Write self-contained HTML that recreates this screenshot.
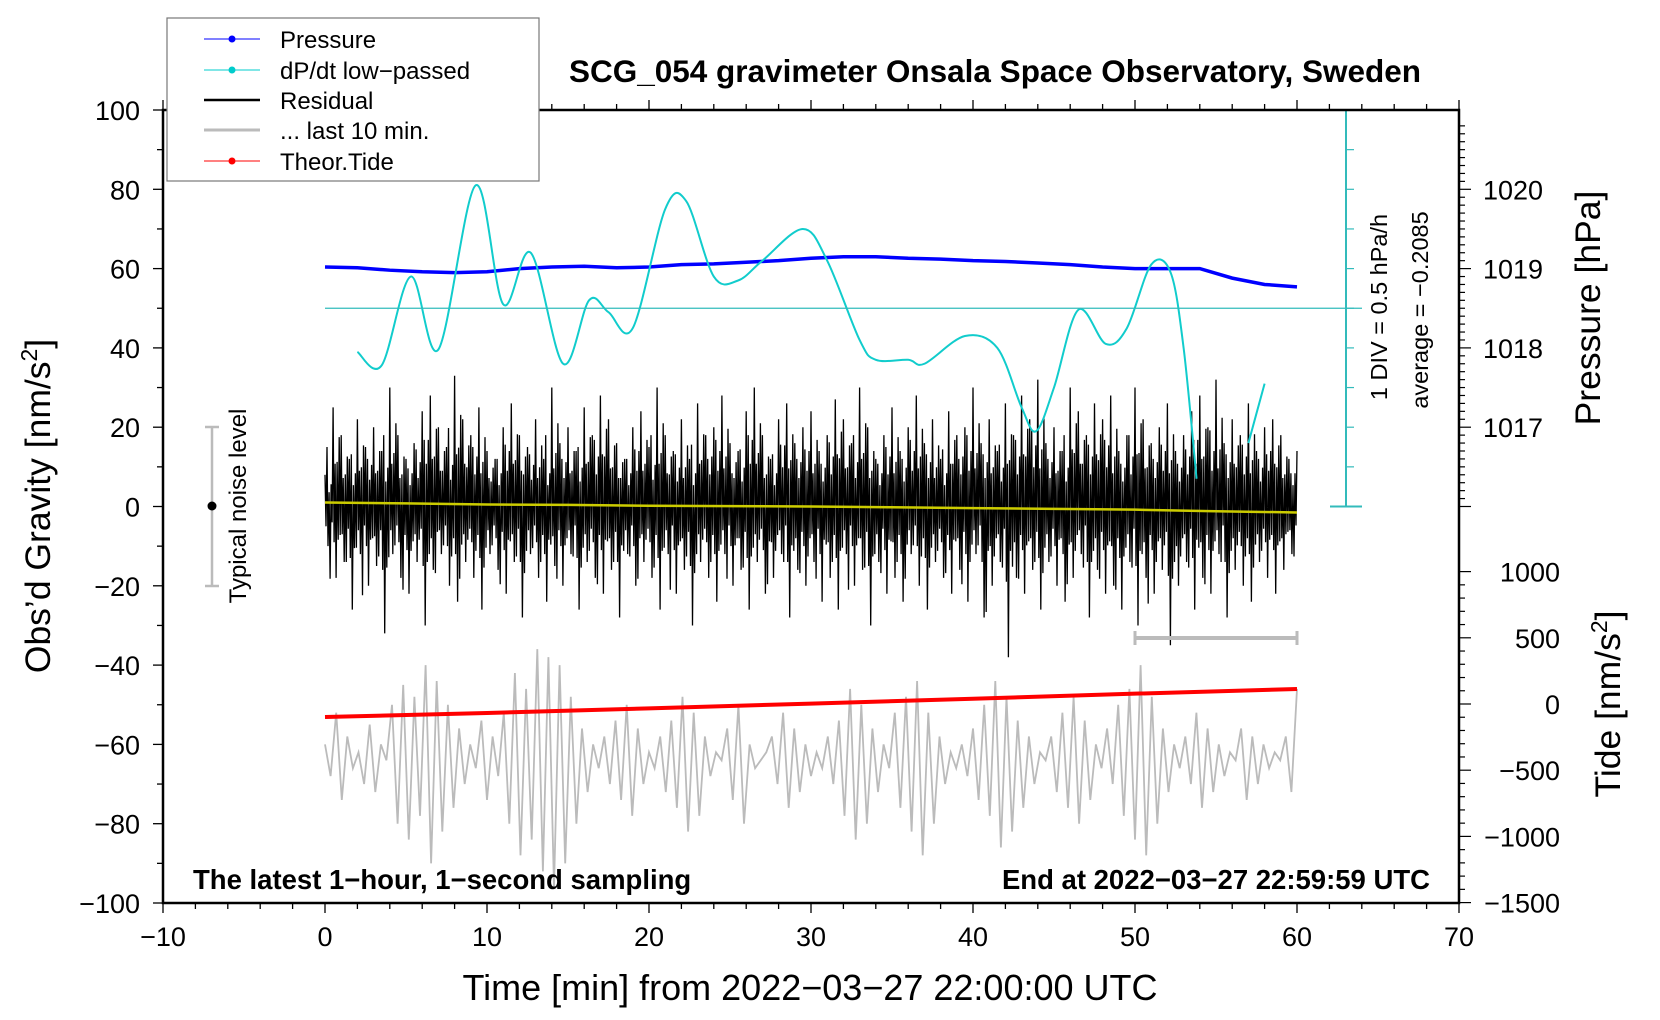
<!DOCTYPE html>
<html><head><meta charset="utf-8"><style>
html,body{margin:0;padding:0;background:#fff;}
svg{display:block;font-family:"Liberation Sans",sans-serif;}
</style></head><body>
<svg id="chart" width="1660" height="1020" viewBox="0 0 1660 1020" xmlns="http://www.w3.org/2000/svg">
<g id="marks"></g>
<g id="axes"></g>
<text x="995" y="82" text-anchor="middle" font-size="31.5" font-weight="bold">SCG_054 gravimeter Onsala Space Observatory, Sweden</text>
<text x="193" y="889" font-size="27.5" font-weight="bold">The latest 1−hour, 1−second sampling</text>
<text x="1430" y="889" text-anchor="end" font-size="27.5" font-weight="bold">End at 2022−03−27 22:59:59 UTC</text>
<text x="810" y="1000" text-anchor="middle" font-size="36">Time [min] from 2022−03−27 22:00:00 UTC</text>
<text transform="translate(50,506) rotate(-90)" text-anchor="middle" font-size="35.5">Obs’d Gravity [nm/s<tspan font-size="23" dy="-13">2</tspan><tspan dy="13">]</tspan></text>
<text transform="translate(1600,308) rotate(-90)" text-anchor="middle" font-size="35.5">Pressure [hPa]</text>
<text transform="translate(1620,704) rotate(-90)" text-anchor="middle" font-size="35.5">Tide [nm/s<tspan font-size="23" dy="-13">2</tspan><tspan dy="13">]</tspan></text>
<text transform="translate(1387,307) rotate(-90)" text-anchor="middle" font-size="23.5">1 DIV = 0.5 hPa/h</text>
<text transform="translate(1428,310) rotate(-90)" text-anchor="middle" font-size="23.5">average = −0.2085</text>
<g>
<line x1="212" y1="427" x2="212" y2="586" stroke="#bbb" stroke-width="2.5"/>
<line x1="205" y1="427" x2="219" y2="427" stroke="#bbb" stroke-width="2.5"/>
<line x1="205" y1="586" x2="219" y2="586" stroke="#bbb" stroke-width="2.5"/>
<circle cx="212" cy="506" r="4.5" fill="#000"/>
<text transform="translate(246,506) rotate(-90)" text-anchor="middle" font-size="24">Typical noise level</text>
</g>
<g>
<rect x="167" y="18" width="372" height="163" fill="#fff" stroke="#777" stroke-width="1.2"/>
<g><line x1="204" y1="39" x2="260" y2="39" stroke="#00f" stroke-width="1"/><circle cx="232" cy="39" r="3.5" fill="#00f"/><text x="280" y="48" font-size="24">Pressure</text></g>
<g><line x1="204" y1="70" x2="260" y2="70" stroke="#0cc" stroke-width="1"/><circle cx="232" cy="70" r="3.5" fill="#0cc"/><text x="280" y="79" font-size="24">dP/dt low−passed</text></g>
<g><line x1="204" y1="100" x2="260" y2="100" stroke="#000" stroke-width="2.5"/><text x="280" y="109" font-size="24">Residual</text></g>
<g><line x1="204" y1="130" x2="260" y2="130" stroke="#bbb" stroke-width="3"/><text x="280" y="139" font-size="24">... last 10 min.</text></g>
<g><line x1="204" y1="161" x2="260" y2="161" stroke="#f00" stroke-width="1"/><circle cx="232" cy="161" r="3.5" fill="#f00"/><text x="280" y="170" font-size="24">Theor.Tide</text></g>
</g>
</svg>
<script>
const resHi=[8,25,18,12,22,15,20,14,30,18,12,16,24,28,20,15,33,22,18,25,14,12,20,26,18,15,22,12,30,16,20,14,25,18,28,22,16,12,20,24,15,30,18,14,22,12,26,18,20,28,16,14,24,30,18,12,22,26,16,20,24,14,18,27,22,16,30,20,12,18,25,14,20,28,16,22,12,24,18,20,30,16,22,14,26,18,28,22,32,16,20,14,30,24,18,26,22,28,14,18,30,22,16,20,26,14,18,24,28,20,32,16,22,18,26,14,20,22,18,12,14];
const resLo=[-10,-18,-14,-26,-12,-20,-15,-32,-12,-18,-22,-14,-30,-16,-12,-20,-24,-14,-18,-26,-12,-16,-22,-14,-28,-12,-18,-24,-15,-20,-12,-26,-14,-18,-22,-16,-28,-12,-20,-14,-18,-26,-12,-22,-16,-30,-14,-18,-24,-12,-20,-16,-26,-14,-22,-18,-12,-28,-16,-20,-14,-24,-18,-26,-12,-20,-16,-30,-14,-22,-18,-24,-12,-20,-26,-14,-18,-22,-16,-24,-12,-28,-20,-14,-38,-18,-22,-16,-26,-14,-20,-24,-18,-12,-28,-16,-22,-20,-26,-14,-30,-18,-22,-16,-35,-20,-14,-26,-18,-22,-12,-28,-16,-20,-24,-14,-18,-22,-16,-12,-14];
const lastTen=[-60,-68,-52,-74,-58,-66,-62,-70,-55,-72,-60,-64,-50,-80,-45,-84,-48,-78,-40,-90,-44,-82,-50,-76,-56,-70,-60,-66,-54,-74,-58,-68,-52,-80,-42,-88,-46,-84,-36,-92,-38,-96,-40,-90,-48,-80,-56,-72,-60,-66,-58,-70,-54,-74,-50,-78,-56,-70,-62,-66,-58,-72,-54,-76,-48,-82,-52,-78,-58,-68,-62,-64,-56,-74,-50,-80,-60,-66,-64,-62,-58,-70,-52,-76,-56,-72,-60,-68,-62,-66,-58,-70,-54,-78,-46,-84,-50,-80,-56,-72,-60,-66,-52,-76,-48,-82,-44,-88,-52,-80,-58,-70,-62,-66,-60,-68,-56,-74,-50,-78,-44,-86,-48,-82,-54,-76,-58,-70,-62,-64,-58,-72,-52,-76,-48,-80,-54,-74,-60,-66,-56,-70,-50,-78,-46,-84,-40,-88,-48,-80,-56,-72,-60,-66,-58,-70,-52,-76,-56,-72,-60,-68,-62,-64,-56,-74,-58,-70,-60,-66,-62,-64,-58,-72,-46];
const meanTimes=[0,5,10,15,20,25,30,35,40,45,50,55,60];
const meanVals=[1,0.8,0.5,0.4,0.2,0.1,0,-0.2,-0.4,-0.6,-0.8,-1.2,-1.5];
const presTimes=[0,2,4,6,8,10,12,14,16,18,20,22,24,26,28,30,32,34,36,38,40,42,44,46,48,50,52,54,56,58,60];
const presVals=[1019.02,1019.01,1018.98,1018.96,1018.95,1018.96,1019.0,1019.02,1019.03,1019.01,1019.02,1019.05,1019.06,1019.08,1019.1,1019.13,1019.15,1019.15,1019.13,1019.12,1019.1,1019.09,1019.07,1019.05,1019.02,1019.0,1019.0,1019.0,1018.88,1018.8,1018.77];
const rateTimes=[2,3.5,5.3,7,9.3,11,12.7,14.7,16.3,17.5,19,21,22.3,24,25.5,27,29.5,31,33,34,36,37,39.5,41.5,43,43.9,45,46.5,48.2,49.5,51,52.2,53,53.8,null,57,58];
const rateVals=[-0.55,-0.72,0.4,-0.52,1.55,0.05,0.7,-0.7,0.1,-0.05,-0.25,1.25,1.35,0.4,0.35,0.6,1.0,0.6,-0.4,-0.65,-0.65,-0.7,-0.35,-0.5,-1.25,-1.55,-1.0,-0.02,-0.45,-0.25,0.55,0.45,-0.5,-2.15,null,-1.7,-0.95];
const tideTimes=[0,10,20,30,40,50,60];
const tideVals=[-98,-68,-33,3,40,78,113];

const NS="http://www.w3.org/2000/svg";
const X0=163,X1=1459,Y0=110,Y1=903;
const sx=t=>X0+(t+10)*(X1-X0)/80;
const sy=g=>Y1-(g+100)*(Y1-Y0)/200;
const spy=p=>sy(80+(p-1020)*20);
const sry=r=>sy(50+r*20);
const sty=v=>704-v*0.1324;
const marks=document.getElementById('marks'),axes=document.getElementById('axes');
function mk(tag,attrs,parent){const e=document.createElementNS(NS,tag);for(const k in attrs)e.setAttribute(k,attrs[k]);parent.appendChild(e);return e;}

let pts=lastTen.map((v,i)=>sx(i*60/(lastTen.length-1)).toFixed(1)+','+sy(v).toFixed(1)).join(' ');
let el=mk('polyline',{points:pts,fill:'none',stroke:'#bbb','stroke-width':1.8},marks);



let rp=[];const n=resHi.length;const dt=60/(n-1);
for(let i=0;i<n;i++){const t=i*dt;const nh=resHi[(i+1)%n],nl=resLo[(i+3)%n];
const seq=[[0,resHi[i]],[0.125,resLo[i]*0.5],[0.25,nh*0.6],[0.375,resLo[i]],[0.5,resHi[i]*0.45],[0.625,nl*0.7],[0.75,resHi[i]*0.7],[0.875,resLo[i]*0.4]];
seq.forEach(s=>{const tt=t+s[0]*dt;if(tt<=60)rp.push(sx(tt).toFixed(1)+','+sy(s[1]).toFixed(1));});}
el=mk('polyline',{points:rp.join(' '),fill:'none',stroke:'#000','stroke-width':1.3},marks);



el=mk('polyline',{points:meanTimes.map((t,i)=>sx(t)+','+sy(meanVals[i])).join(' '),fill:'none',stroke:'#cc0','stroke-width':2.5},marks);



el=mk('polyline',{points:presTimes.map((t,i)=>sx(t)+','+spy(presVals[i])).join(' '),fill:'none',stroke:'#00f','stroke-width':3.5},marks);



let segs=[[]];
rateTimes.forEach((t,i)=>{if(t===null){segs.push([]);}else segs[segs.length-1].push([sx(t),sry(rateVals[i])]);});
segs.forEach(s=>{if(s.length<2)return;let d='M'+s[0][0]+','+s[0][1];
for(let i=0;i<s.length-1;i++){const p0=s[i-1]||s[i],p1=s[i],p2=s[i+1],p3=s[i+2]||p2;
d+=` C${p1[0]+(p2[0]-p0[0])/6},${p1[1]+(p2[1]-p0[1])/6} ${p2[0]-(p3[0]-p1[0])/6},${p2[1]-(p3[1]-p1[1])/6} ${p2[0]},${p2[1]}`;}
const e=mk('path',{d:d,fill:'none',stroke:'#1cc','stroke-width':2},marks);

});

el=mk('polyline',{points:tideTimes.map((t,i)=>sx(t)+','+sty(tideVals[i])).join(' '),fill:'none',stroke:'#f00','stroke-width':4},marks);



el=mk('line',{x1:sx(0),x2:1362,y1:sry(0),y2:sry(0),stroke:'#3bb','stroke-width':1.3},marks);


el=mk('line',{x1:1346,x2:1346,y1:sry(2.5),y2:sry(-2.5),stroke:'#3bb','stroke-width':2},marks);


mk('line',{x1:1330,x2:1362,y1:sry(2.5),y2:sry(2.5),stroke:'#3bb','stroke-width':2},marks);
mk('line',{x1:1330,x2:1362,y1:sry(-2.5),y2:sry(-2.5),stroke:'#3bb','stroke-width':2},marks);
for(let r=-2;r<=2;r+=0.5){mk('line',{x1:1346,x2:1354,y1:sry(r),y2:sry(r),stroke:'#3bb','stroke-width':1.2},marks);}

el=mk('line',{x1:sx(50),x2:sx(60),y1:638,y2:638,stroke:'#bbb','stroke-width':4},marks);


mk('line',{x1:sx(50),x2:sx(50),y1:631,y2:645,stroke:'#bbb','stroke-width':3},marks);
mk('line',{x1:sx(60),x2:sx(60),y1:631,y2:645,stroke:'#bbb','stroke-width':3},marks);

el=mk('rect',{x:X0,y:Y0,width:X1-X0,height:Y1-Y0,fill:'none',stroke:'#000','stroke-width':2.5},axes);


const xTicks=[-10,0,10,20,30,40,50,60,70];
for(let t=-10;t<=70;t+=2){const major=t%10===0;
mk('line',{x1:sx(t),x2:sx(t),y1:Y1,y2:Y1+(major?10:6),stroke:'#000','stroke-width':1.3},axes);
mk('line',{x1:sx(t),x2:sx(t),y1:Y0,y2:Y0-(major?10:6),stroke:'#000','stroke-width':1.3},axes);}
xTicks.forEach(t=>{const e=mk('text',{x:sx(t),y:946,'text-anchor':'middle','font-size':27},axes);e.textContent=String(t).replace('-','−');

});
const yTicks=[-100,-80,-60,-40,-20,0,20,40,60,80,100];
for(let g=-100;g<=100;g+=10){mk('line',{x1:X0,x2:X0-(g%20===0?10:6),y1:sy(g),y2:sy(g),stroke:'#000','stroke-width':1.3},axes);}
yTicks.forEach(g=>{const e=mk('text',{x:140,y:sy(g)+10,'text-anchor':'end','font-size':27},axes);e.textContent=String(g).replace('-','−');

});
const pTicks=[1017,1018,1019,1020];
for(let p=1016;p<=1020.9;p+=0.1){const y=spy(p);if(y<Y0)continue;const major=Math.abs(p-Math.round(p))<0.01;
mk('line',{x1:X1,x2:X1+(major?12:6),y1:y,y2:y,stroke:'#000','stroke-width':1.2},axes);}
pTicks.forEach(p=>{const e=mk('text',{x:1483,y:spy(p)+10,'font-size':27},axes);e.textContent=p;

});
const tTicks=[-1500,-1000,-500,0,500,1000];
for(let v=-1500;v<=1000;v+=100){mk('line',{x1:X1,x2:X1+(v%500===0?12:6),y1:sty(v),y2:sty(v),stroke:'#000','stroke-width':1.2},axes);}
tTicks.forEach(v=>{const e=mk('text',{x:1560,y:sty(v)+10,'text-anchor':'end','font-size':27},axes);e.textContent=String(v).replace('-','−');

});
</script>
</body></html>
